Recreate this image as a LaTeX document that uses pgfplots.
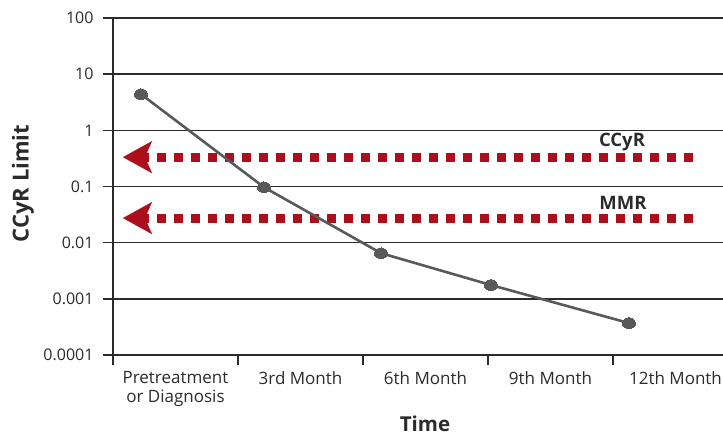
\documentclass[border=0pt]{standalone}
\usepackage{fontspec}
\setmainfont{Open Sans}
\usepackage{pgfplots}
\pgfplotsset{compat=1.18}
\usetikzlibrary{arrows.meta}
\definecolor{cred}{HTML}{AC0E1B}
\definecolor{cgray}{HTML}{58595B}
\definecolor{cgrid}{HTML}{2B2B2B}
\begin{document}
\begin{tikzpicture}
\begin{axis}[
  scale only axis, width=610pt, height=337pt,
  ymode=log, ymin=1e-4, ymax=100,
  xmin=0, xmax=4.88,
  axis lines=left, axis line style={-, cgrid, line width=1.6pt},
  major tick length=10pt,
  ytick={1e-4,1e-3,1e-2,1e-1,1,10,100},
  yticklabels={0.0001,0.001,0.01,0.1,1,10,100},
  yminorticks=false,
  ymajorgrids, grid style={cgrid, line width=1.6pt},
  y tick style={cgrid, line width=1.6pt},
  tick align=outside,
  yticklabel style={font=\fontsize{16}{18}\selectfont, text=cgrid, xshift=-6pt},
  xtick={0.5,1.5,2.5,3.5,4.5},
  xticklabels={Pretreatment\\or Diagnosis,3rd Month,6th Month,9th Month,12th Month},
  x tick style={draw=none},
  xticklabel style={font=\fontsize{17}{19}\selectfont, text=cgrid, align=center, yshift=-3pt},
  extra x ticks={0,1,2,3,4},
  extra x tick labels={},
  extra x tick style={x tick style={draw=cgrid, line width=1.6pt}, grid=none},
  ylabel={\bfseries CCyR Limit},
  every axis y label/.style={at={(axis description cs:0,0.5)}, xshift=-90pt, yshift=3pt, rotate=90, anchor=center, font=\fontsize{22}{24}\selectfont, text=cgrid},
  xlabel={\bfseries Time},
  every axis x label/.style={at={(axis description cs:0.5,0)}, xshift=7pt, yshift=-69pt, anchor=center, font=\fontsize{20.5}{22}\selectfont, text=cgrid, inner sep=1pt},
  clip=false,
]
\addplot[cred, line width=9pt, dash pattern=on 9pt off 8pt, line cap=butt,
  -{Stealth[length=29pt, width=32pt, inset=7pt, line width=0.1pt, fill=cred]}]
  coordinates {(4.64,0.333) (0.08,0.333)};
\addplot[cred, line width=9pt, dash pattern=on 9pt off 8pt, line cap=butt,
  -{Stealth[length=29pt, width=32pt, inset=7pt, line width=0.1pt, fill=cred]}]
  coordinates {(4.64,0.0274) (0.08,0.0274)};
\addplot[cgray, line width=2.6pt, mark=*, mark size=6.5pt, mark options={yscale=0.82, fill=cgray, draw=cgray, line width=0pt}]
  coordinates {(0.224,4.4) (1.208,0.097) (2.144,0.0065) (3.024,0.00176) (4.128,0.00037)};
\node[font=\fontsize{18.5}{20}\selectfont\bfseries, text=cgrid] at (axis cs:4.072,0.617) {CCyR};
\node[font=\fontsize{18.5}{20}\selectfont\bfseries, text=cgrid] at (axis cs:4.08,0.0507) {MMR};
\end{axis}
\pgfresetboundingbox
\useasboundingbox (current axis.south west) ++(-113pt,-81pt) rectangle ++(723pt,436pt);
\end{tikzpicture}
\end{document}
